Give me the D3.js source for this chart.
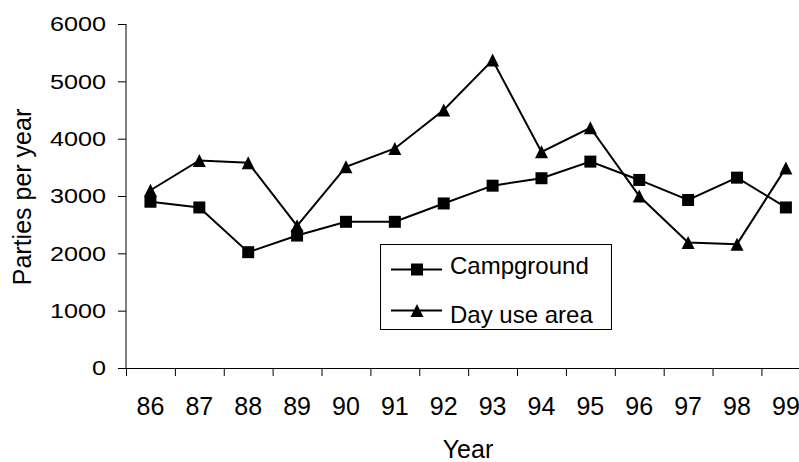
<!DOCTYPE html>
<html>
<head>
<meta charset="utf-8">
<script src="https://cdn.jsdelivr.net/npm/d3@7"></script>
<style>
  html, body { margin: 0; padding: 0; background: #fff; }
  svg { display: block; font-family: "Liberation Sans", Arial, sans-serif; }
</style>
</head>
<body>
<svg id="chart" width="799" height="462"></svg>
<script>
// Visitor parties per year, 1986–1999
const years = ["86", "87", "88", "89", "90", "91", "92", "93", "94", "95", "96", "97", "98", "99"];
const campground = [2900, 2800, 2020, 2310, 2550, 2550, 2870, 3180, 3310, 3600, 3280, 2930, 3320, 2800];
const dayUse = [3100, 3620, 3580, 2480, 3510, 3830, 4500, 5370, 3770, 4190, 3000, 2190, 2160, 3490];
const yTicks = [0, 1000, 2000, 3000, 4000, 5000, 6000];
const seriesNames = ["Campground", "Day use area"];

const svg = d3.select("#chart");

const plotLeft = 126, plotTop = 24, plotBottom = 368;
const band = 48.88;
const x = d3.scaleBand().domain(years).range([plotLeft, plotLeft + band * years.length]).paddingInner(0).paddingOuter(0);
const y = d3.scaleLinear().domain([0, 6000]).range([plotBottom, plotTop]);

// Y axis
const yAxis = svg.append("g")
  .attr("transform", `translate(${plotLeft},0)`)
  .call(d3.axisLeft(y).tickValues(yTicks).tickSize(8).tickPadding(12).tickFormat(d3.format("d")));
yAxis.select(".domain").attr("stroke", "#000").attr("d", `M0,${plotTop}V${plotBottom}`);
yAxis.selectAll(".tick line").attr("stroke", "#000");
yAxis.selectAll(".tick text").attr("font-size", 21).attr("fill", "#000")
  .attr("font-family", "Liberation Sans, Arial, sans-serif")
  .each(function () {
    // value labels are set slightly wide
    const t = d3.select(this);
    const tx = +t.attr("x");
    t.attr("x", 0).attr("transform", `translate(${tx},0) scale(1.2,1)`);
  });

// X axis: labels centred in each category, tick marks on category boundaries
const boundaries = d3.scaleLinear().domain([0, years.length]).range(x.range());
const xTickAxis = svg.append("g")
  .attr("transform", `translate(0,${plotBottom})`)
  .call(d3.axisBottom(boundaries).tickValues(d3.range(years.length + 1)).tickSize(8).tickFormat(""));
xTickAxis.select(".domain").attr("stroke", "#000");
xTickAxis.selectAll(".tick line").attr("stroke", "#000");

const xLabelAxis = svg.append("g")
  .attr("transform", `translate(0,${plotBottom})`)
  .call(d3.axisBottom(x).tickSize(0).tickPadding(0));
xLabelAxis.select(".domain").remove();
xLabelAxis.selectAll(".tick text")
  .attr("font-size", 25).attr("fill", "#000")
  .attr("font-family", "Liberation Sans, Arial, sans-serif")
  .attr("dy", null).attr("y", 47);

// Axis titles
svg.append("text")
  .attr("x", 468).attr("y", 458)
  .attr("text-anchor", "middle").attr("font-size", 25).attr("fill", "#000")
  .text("Year");
svg.append("text")
  .attr("transform", "translate(31,197) rotate(-90)")
  .attr("text-anchor", "middle").attr("font-size", 25).attr("fill", "#000")
  .text("Parties per year");

const cx = d => x(d) + x.bandwidth() / 2;
const line = d3.line().x((d, i) => cx(years[i])).y(d => y(d));

const square = d3.symbol().type(d3.symbolSquare).size(144);

// Triangle glyph centred on its bounding box
function triPath(s) {
  return `M0,${-s / 2}L${s / 2},${s / 2}L${-s / 2},${s / 2}Z`;
}

// Series lines
svg.append("path").datum(campground)
  .attr("fill", "none").attr("stroke", "#000").attr("stroke-width", 2).attr("d", line);
svg.append("path").datum(dayUse)
  .attr("fill", "none").attr("stroke", "#000").attr("stroke-width", 2).attr("d", line);

// Markers
svg.append("g").selectAll("path").data(campground).join("path")
  .attr("transform", (d, i) => `translate(${cx(years[i])},${y(d)})`)
  .attr("d", square).attr("fill", "#000");
svg.append("g").selectAll("path").data(dayUse).join("path")
  .attr("transform", (d, i) => `translate(${cx(years[i])},${y(d)})`)
  .attr("d", triPath(13)).attr("fill", "#000");

// Legend
const legend = svg.append("g");
legend.append("rect")
  .attr("x", 380.5).attr("y", 244.5).attr("width", 231).attr("height", 85)
  .attr("fill", "#fff").attr("stroke", "#000").attr("stroke-width", 1);
const rows = [
  { name: seriesNames[0], y: 269.5, mark: square(), text: 274 },
  { name: seriesNames[1], y: 310.5, mark: triPath(13), text: 323 }
];
rows.forEach(r => {
  legend.append("line")
    .attr("x1", 391).attr("x2", 442).attr("y1", r.y).attr("y2", r.y)
    .attr("stroke", "#000").attr("stroke-width", 2);
  legend.append("path")
    .attr("transform", `translate(417,${r.y})`).attr("d", r.mark).attr("fill", "#000");
  legend.append("text")
    .attr("x", 450).attr("y", r.text).attr("font-size", 24).attr("fill", "#000")
    .text(r.name);
});
</script>
</body>
</html>
